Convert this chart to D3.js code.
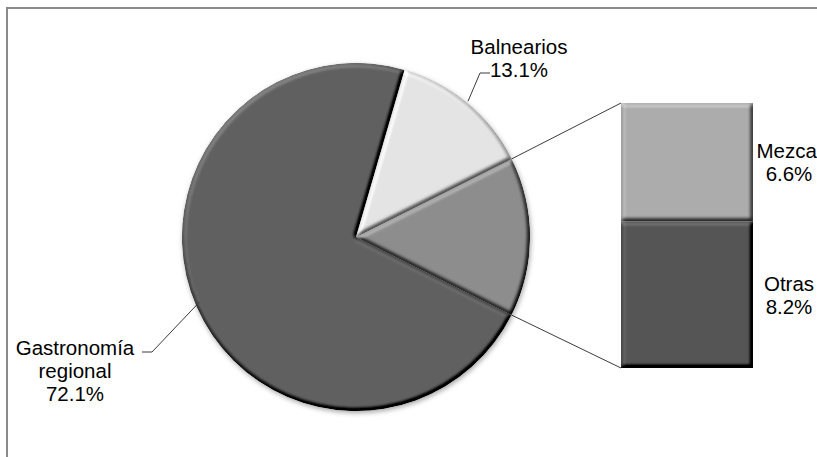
<!DOCTYPE html>
<html>
<head>
<meta charset="utf-8">
<script src="https://cdn.jsdelivr.net/npm/d3@7"></script>
<style>
  html, body { margin: 0; padding: 0; background: #fff; overflow: hidden; }
  svg { display: block; }
  text { font-family: "Liberation Sans", Arial, sans-serif; fill: #000; }
</style>
</head>
<body>
<svg id="chart" width="817" height="457"></svg>
<script>
// Main pie slices (the last one is broken out into the stacked bar)
const pieCategories = ["Gastronomía regional", "Balnearios", "Otros"];
const pieValues = [72.1, 13.1, 14.8];
const pieColors = ["#616161", "#e4e4e4", "#8d8d8d"];
const pieLabelLines = [["Gastronomía", "regional", "72.1%"], ["Balnearios", "13.1%"], null];

// Breakdown of the "Otros" slice
const barCategories = ["Mezcal", "Otras"];
const barValues = [6.6, 8.2];
const barColors = ["#acacac", "#555555"];
const barLabelLines = [["Mezcal", "6.6%"], ["Otras", "8.2%"]];

const W = 817, H = 457;
const svg = d3.select("#chart");

// ---- filters: bevel for the marks, soft drop shadow for the pie ----
const defs = svg.append("defs");
const bevel = defs.append("filter").attr("id", "bevel")
  .attr("x", "-5%").attr("y", "-5%").attr("width", "110%").attr("height", "110%")
  .attr("color-interpolation-filters", "sRGB");
bevel.append("feGaussianBlur").attr("in", "SourceAlpha").attr("stdDeviation", 2.2).attr("result", "b");
const dl = bevel.append("feDiffuseLighting").attr("in", "b").attr("surfaceScale", 4)
  .attr("diffuseConstant", 1).attr("lighting-color", "#fff").attr("result", "d");
dl.append("feDistantLight").attr("azimuth", 235).attr("elevation", 55);
const el = Math.sin(55 * Math.PI / 180);
bevel.append("feComposite").attr("in", "SourceGraphic").attr("in2", "d")
  .attr("operator", "arithmetic").attr("k1", 0).attr("k2", 1).attr("k3", 0.7).attr("k4", -0.7 * el)
  .attr("result", "lit");
bevel.append("feComposite").attr("in", "lit").attr("in2", "SourceAlpha").attr("operator", "in");

const shadow = defs.append("filter").attr("id", "shadow")
  .attr("x", "-10%").attr("y", "-10%").attr("width", "120%").attr("height", "120%");
shadow.append("feDropShadow").attr("dx", 1).attr("dy", 2).attr("stdDeviation", 2.5)
  .attr("flood-color", "#000").attr("flood-opacity", 0.35);

// ---- outer frame ----
svg.append("rect")
  .attr("x", 7).attr("y", 8).attr("width", W + 20).attr("height", H + 20)
  .attr("fill", "none").attr("stroke", "#8a8a8a").attr("stroke-width", 2);

// ---- pie ----
const cx = 356, cy = 237, R = 174;
const total = d3.sum(pieValues);
const otherAngle = pieValues[2] / total * 2 * Math.PI;
const start = Math.PI / 2 + otherAngle / 2;   // broken-out slice is centred on the right
const pie = d3.pie().sort(null).value(d => d)
  .startAngle(start).endAngle(start + 2 * Math.PI);
const arcs = pie(pieValues);
const arc = d3.arc().innerRadius(0).outerRadius(R);

const gPie = svg.append("g").attr("transform", `translate(${cx},${cy})`).attr("filter", "url(#shadow)");
gPie.selectAll("path").data(arcs).join("path")
  .attr("d", arc)
  .attr("fill", (d, i) => pieColors[i])
  .attr("filter", "url(#bevel)");

const polar = (a, r) => [cx + r * Math.sin(a), cy - r * Math.cos(a)];

// ---- stacked bar for the broken-out slice ----
const barX = 621, barW = 132;
const y = d3.scaleLinear().domain([0, d3.sum(barValues)]).range([103, 368]);
const stackStarts = d3.cumsum([0, ...barValues]).slice(0, barValues.length);
const gBar = svg.append("g");
gBar.selectAll("rect").data(barValues).join("rect")
  .attr("x", barX).attr("width", barW)
  .attr("y", (d, i) => y(stackStarts[i]))
  .attr("height", (d, i) => y(stackStarts[i] + d) - y(stackStarts[i]))
  .attr("fill", (d, i) => barColors[i])
  .attr("filter", "url(#bevel)");

// ---- connector lines pie -> bar ----
const otherArc = arcs[2];
const pTop = polar(otherArc.startAngle, R);
const pBot = polar(otherArc.endAngle, R);
const conn = svg.append("g").attr("stroke", "#3c3c3c").attr("stroke-width", 1).attr("fill", "none");
conn.append("line").attr("x1", pTop[0]).attr("y1", pTop[1]).attr("x2", barX).attr("y2", y(0));
conn.append("line").attr("x1", pBot[0]).attr("y1", pBot[1]).attr("x2", barX).attr("y2", y(d3.sum(barValues)));

// ---- labels ----
const fs = 20.5, lh = 23;
function label(lines, x, yFirstBaseline) {
  const t = svg.append("text").attr("text-anchor", "middle").attr("font-size", fs);
  lines.forEach((s, i) => t.append("tspan").attr("x", x).attr("y", yFirstBaseline + i * lh).text(s));
}
label(pieLabelLines[0], 75, 355);
label(pieLabelLines[1], 519, 54);
barValues.forEach((v, i) => {
  const mid = (y(stackStarts[i]) + y(stackStarts[i] + v)) / 2;
  label(barLabelLines[i], 789, mid - 4);
});

// ---- leader lines ----
const lead = svg.append("g").attr("stroke", "#3c3c3c").attr("stroke-width", 1).attr("fill", "none");
const gEdge = polar(4.32, R - 5);
const bEdge = polar(0.69, R + 2);
lead.append("polyline").attr("points", [[142, 352], [152, 352], gEdge].map(p => p.join(",")).join(" "));
lead.append("polyline").attr("points", [[490, 73], [480, 73], bEdge].map(p => p.join(",")).join(" "));
</script>
</body>
</html>
